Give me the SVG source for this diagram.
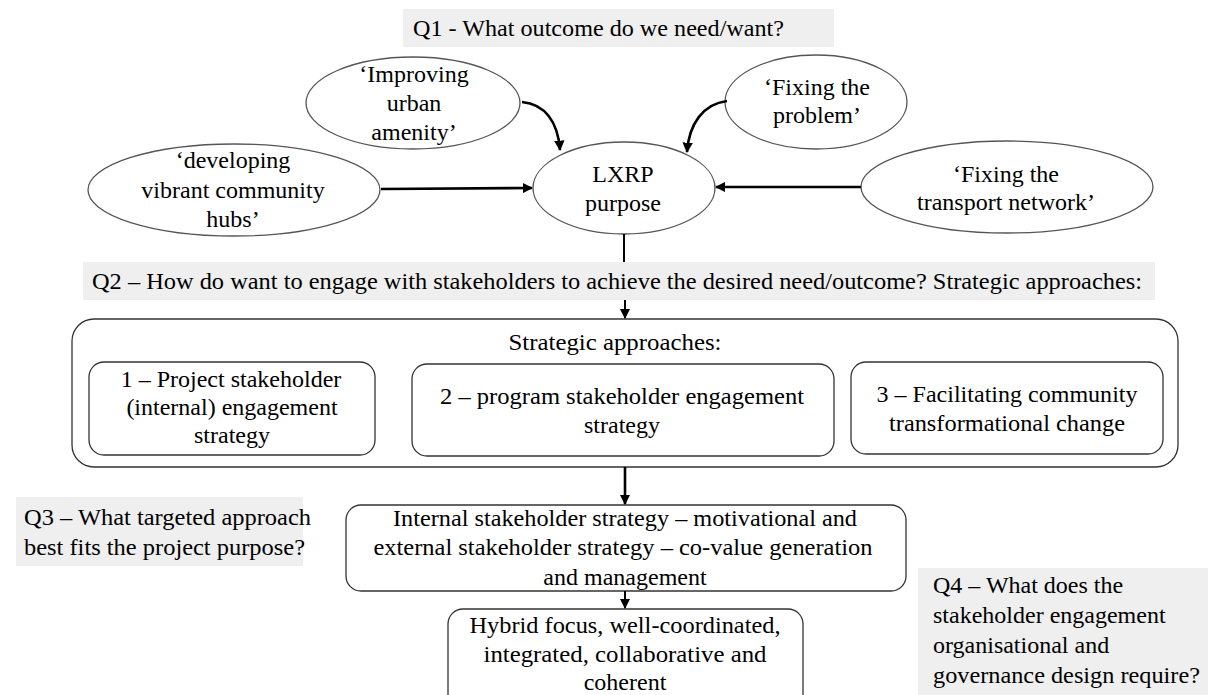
<svg xmlns="http://www.w3.org/2000/svg" width="1208" height="695" viewBox="0 0 1208 695">
<style>
.t{font-size:24px;text-anchor:middle;}
.q{font-size:24px;}
.gray{fill:#efefef;stroke:none;}
.ell{fill:#fff;stroke:#555;stroke-width:1.3;}
.box{fill:#fff;stroke:#333;stroke-width:1.3;}
.con{fill:none;stroke:#000;stroke-width:2.6;}
.con2{fill:none;stroke:#000;stroke-width:2;}
</style>
<defs>
<marker id="ah" viewBox="0 0 10 10" refX="9" refY="5" markerWidth="4" markerHeight="4" orient="auto" markerUnits="strokeWidth">
<path d="M0,0 L10,5 L0,10 z" fill="#000"/>
</marker>
<marker id="ah2" viewBox="0 0 10 10" refX="9" refY="5" markerWidth="5" markerHeight="5" orient="auto" markerUnits="strokeWidth">
<path d="M0,0 L10,5 L0,10 z" fill="#000"/>
</marker>
</defs>
<rect width="1208" height="695" fill="#fff"/>
<g font-family="Liberation Serif, Times New Roman, serif" fill="#000" xml:space="preserve">

<g id="q1">
<rect class="gray" x="403" y="9" width="431" height="38"/>
<text class="q" x="413" y="36" textLength="371" lengthAdjust="spacingAndGlyphs">Q1 - What outcome do we need/want?</text>
</g>

<g id="improving">
<ellipse class="ell" cx="413" cy="103" rx="107" ry="46"/>
<text class="t" x="414" y="82">‘Improving</text>
<text class="t" x="414" y="111">urban</text>
<text class="t" x="414" y="140">amenity’</text>
</g>

<g id="fixing-problem">
<ellipse class="ell" cx="816" cy="102" rx="91" ry="47"/>
<text class="t" x="817" y="95">‘Fixing the</text>
<text class="t" x="817" y="123">problem’</text>
</g>

<g id="developing">
<ellipse class="ell" cx="234" cy="190" rx="146" ry="46"/>
<text class="t" x="233" y="168">‘developing</text>
<text class="t" x="233" y="198">vibrant community</text>
<text class="t" x="233" y="227">hubs’</text>
</g>

<g id="lxrp">
<ellipse class="ell" cx="624" cy="188" rx="91" ry="46"/>
<text class="t" x="623" y="182">LXRP</text>
<text class="t" x="623" y="211">purpose</text>
</g>

<g id="transport">
<ellipse class="ell" cx="1007" cy="187" rx="146" ry="46"/>
<text class="t" x="1006" y="182">‘Fixing the</text>
<text class="t" x="1006" y="210">transport network’</text>
</g>

<g id="q2">
<rect class="gray" x="83" y="262" width="1072" height="38"/>
<text class="q" x="92" y="289" textLength="1050" lengthAdjust="spacingAndGlyphs">Q2 – How do want to engage with stakeholders to achieve the desired need/outcome? Strategic  approaches:</text>
</g>

<g id="strategic">
<rect class="box" x="72" y="319" width="1106" height="148" rx="22"/>
<text class="t" x="615" y="350" textLength="213" lengthAdjust="spacingAndGlyphs">Strategic  approaches:</text>
</g>

<g id="s1">
<rect class="box" x="89" y="362" width="286" height="93" rx="15"/>
<text class="t" x="231" y="387">1 – Project stakeholder</text>
<text class="t" x="232" y="415">(internal) engagement</text>
<text class="t" x="232" y="443">strategy</text>
</g>

<g id="s2">
<rect class="box" x="412" y="364" width="422" height="92" rx="15"/>
<text class="t" x="622" y="404" textLength="364" lengthAdjust="spacingAndGlyphs">2 –  program stakeholder engagement</text>
<text class="t" x="622" y="433">strategy</text>
</g>

<g id="s3">
<rect class="box" x="851" y="362" width="312" height="92" rx="15"/>
<text class="t" x="1007" y="402" textLength="261" lengthAdjust="spacingAndGlyphs">3 – Facilitating community</text>
<text class="t" x="1007" y="431" textLength="236" lengthAdjust="spacingAndGlyphs">transformational change</text>
</g>

<g id="q3">
<rect class="gray" x="16" y="497" width="287" height="69"/>
<text class="q" x="24" y="525" textLength="287" lengthAdjust="spacingAndGlyphs">Q3 – What targeted approach</text>
<text class="q" x="24" y="555" textLength="281" lengthAdjust="spacingAndGlyphs">best fits the project purpose?</text>
</g>

<g id="internal">
<rect class="box" x="346" y="505" width="560" height="86" rx="15"/>
<text class="t" x="625" y="526" textLength="464" lengthAdjust="spacingAndGlyphs">Internal stakeholder strategy – motivational  and</text>
<text class="t" x="623" y="555" textLength="499" lengthAdjust="spacingAndGlyphs">external stakeholder strategy – co-value generation</text>
<text class="t" x="625" y="585">and management</text>
</g>

<g id="hybrid">
<rect class="box" x="448" y="609" width="355" height="100" rx="15"/>
<text class="t" x="625" y="633" textLength="311" lengthAdjust="spacingAndGlyphs">Hybrid focus, well-coordinated,</text>
<text class="t" x="625" y="662" textLength="283" lengthAdjust="spacingAndGlyphs">integrated, collaborative  and</text>
<text class="t" x="625" y="690">coherent</text>
</g>

<g id="q4">
<rect class="gray" x="918" y="568" width="290" height="127"/>
<text class="q" x="933" y="593">Q4 – What does the</text>
<text class="q" x="933" y="623">stakeholder engagement</text>
<text class="q" x="933" y="653">organisational and</text>
<text class="q" x="933" y="683" textLength="267" lengthAdjust="spacingAndGlyphs">governance design require?</text>
</g>
</g>

<g id="connectors">
<path class="con" d="M522,102 C545,104 558,122 560,150" marker-end="url(#ah)"/>
<path class="con" d="M727,101 C703,104 689,124 687,152" marker-end="url(#ah)"/>
<path class="con" d="M381,189 L532,188" marker-end="url(#ah)"/>
<path class="con" d="M861,187 L716,187" marker-end="url(#ah)"/>
<path class="con2" d="M624,234 L624,262"/>
<path class="con2" d="M625,300 L625,318" marker-end="url(#ah2)"/>
<path class="con" d="M625,467 L625,504" marker-end="url(#ah)"/>
<path class="con2" d="M625,591 L625,608" marker-end="url(#ah2)"/>
</g>
</svg>
